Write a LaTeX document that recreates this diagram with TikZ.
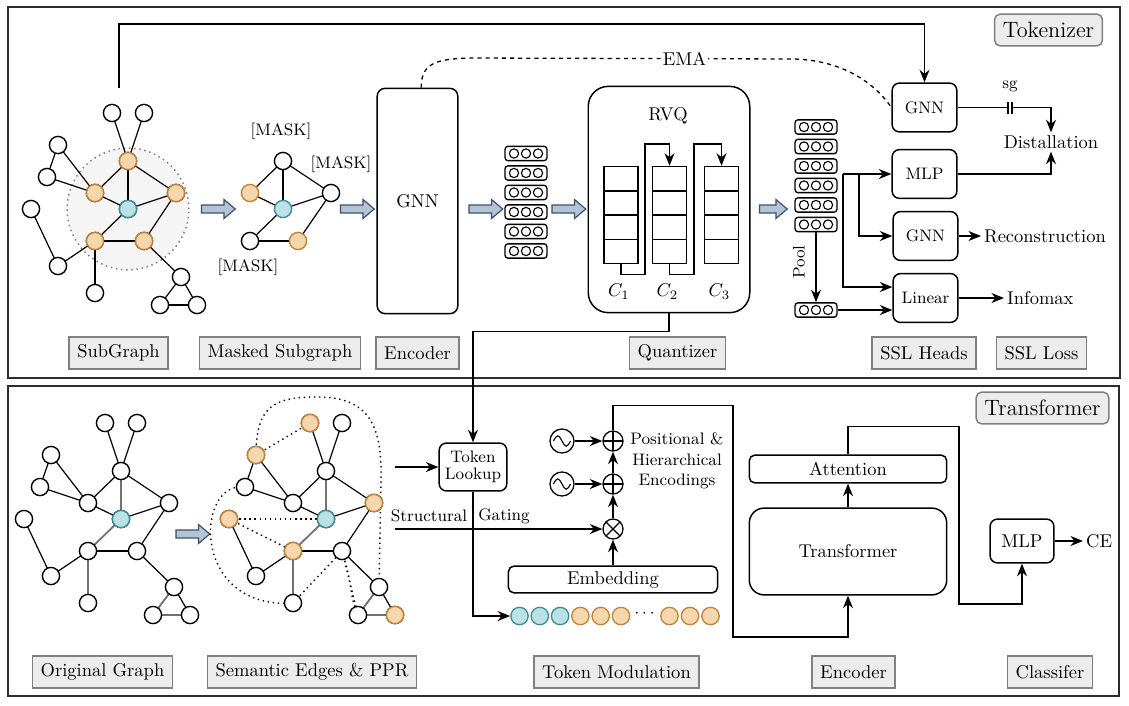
\documentclass[tikz,border=0pt]{standalone}
\usepackage{amsmath}
\usepackage{xcolor}
\usepackage{tikz}
\usetikzlibrary{
  arrows.meta,
  positioning,
  calc,
  shapes,
  shapes.arrows,
  backgrounds}
\definecolor{orF}{RGB}{246,214,172}
\definecolor{orD}{RGB}{192,132,56}
\definecolor{tlF}{RGB}{186,226,230}
\definecolor{tlD}{RGB}{62,140,150}
\definecolor{fatF}{RGB}{180,196,212}
\definecolor{fatD}{RGB}{58,82,108}
\definecolor{tagF}{RGB}{236,236,236}
\definecolor{tagD}{RGB}{128,128,128}
\definecolor{frameD}{RGB}{45,45,45}
\tikzset{
  gn/.style={circle, draw=black, fill=white, line width=0.75pt, minimum size=9.3pt, inner sep=0pt},
  gor/.style={draw=orD, fill=orF},
  gtl/.style={draw=tlD, fill=tlF},
  gedge/.style={line width=0.65pt},
  sem/.style={line width=0.75pt, dotted},
  box/.style={draw, rounded corners=4pt, line width=0.8pt, align=center},
  tag/.style={draw=tagD, fill=tagF, line width=0.8pt, minimum height=17.2pt, inner xsep=4.5pt},
  ttag/.style={tag, rounded corners=3pt, font=\large},
  fat/.style={single arrow, draw=fatD, fill=fatF, line width=0.65pt, minimum height=18.3pt,
    minimum width=0pt, single arrow head extend=3pt, single arrow tip angle=80, inner xsep=0pt, inner ysep=1.8pt},
  vrow/.style={draw, rounded corners=1.5pt, line width=0.7pt, minimum width=22.6pt, minimum height=7.7pt, inner sep=0pt},
  cell/.style={draw, line width=0.8pt, minimum width=18.3pt, minimum height=13.1pt, inner sep=0pt},
  tok/.style={circle, line width=0.7pt, minimum size=9.4pt, inner sep=0pt},
  op/.style={circle, draw, line width=0.7pt, minimum size=10.8pt, inner sep=0pt},
  opls/.style={op, path picture={\draw[line width=0.6pt] (path picture bounding box.north) -- (path picture bounding box.south)
    (path picture bounding box.west) -- (path picture bounding box.east);}},
  otim/.style={op, path picture={\draw[line width=0.6pt] (path picture bounding box.north west) -- (path picture bounding box.south east)
    (path picture bounding box.north east) -- (path picture bounding box.south west);}},
  wave/.style={circle, draw, line width=0.7pt, minimum size=13pt, inner sep=0pt,
    path picture={\draw[line width=0.6pt] ([xshift=-4.6pt]path picture bounding box.center) sin ++(2.3pt,2.8pt) cos ++(2.3pt,-2.8pt)
    sin ++(2.3pt,-2.8pt) cos ++(2.3pt,2.8pt);}},
  lbl/.style={inner sep=1.5pt},
  >={Stealth[length=6.8pt,width=5.4pt]},
}
% node positions of the example graph, and its edges
\def\gpos{112/113,144/113,58/145,47/177,31/209,58/266,95/293,128/161,95/193,176/193,128/209,95/241,144/241,181/277,160/305,197/305}
\def\gedges{1/8,2/8,3/4,3/9,4/9,8/9,8/11,8/10,9/11,10/11,10/13,11/12,12/13,12/6,5/6,12/7,13/14,14/15,14/16,15/16}
\begin{document}
\begin{tikzpicture}[x=0.019cm, y=-0.019cm]
\useasboundingbox (0,0) rectangle (1129,705);
%Frames
\draw[line width=1pt, frameD] (8,7) rectangle (1120,378);
\draw[line width=1pt, frameD] (8,386) rectangle (1119,696);
\node[ttag] (tokz) at (1048.5,30) {Tokenizer};
\node[ttag] (trfz) at (1042.5,408) {Transformer};

%Subgraph
\draw[gray, dotted, line width=0.8pt, fill=black!4] (128,209) circle[radius=32.9pt];
\foreach \x/\y [count=\i] in \gpos \coordinate (t\i) at (\x,\y);
\foreach \a/\b in \gedges \draw[gedge] (t\a) -- (t\b);
\foreach \i in {1,...,16} \node[gn] (t\i) at (t\i) {};
\foreach \i in {8,9,10,12,13} \node[gn, gor] (t\i) at (t\i) {};
\node[gn, gtl] (t11) at (t11) {};
\coordinate (fb) at (119,88);
\node[fat] (fa1) at (216,209) {};

%Masked subgraph
\foreach \n/\x/\y in {m1/283/161, m2/250/193, m3/283/209, m4/331/193, m5/250/241, m6/298/241}
  \coordinate (\n) at (\x,\y);
\foreach \a/\b in {m1/m2,m1/m3,m1/m4,m2/m3,m3/m4,m3/m5,m5/m6,m4/m6} \draw[gedge] (\a) -- (\b);
\node[gn] (m1) at (m1) {};
\node[gn, gor] (m2) at (m2) {};
\node[gn, gtl] (m3) at (m3) {};
\node[gn] (m4) at (m4) {};
\node[gn] (m5) at (m5) {};
\node[gn, gor] (m6) at (m6) {};
\node[font=\small] (mk1) at (281,131) {[MASK]};
\node[font=\small] (mk2) at (341,164) {[MASK]};
\node[font=\small] (mk3) at (248,267) {[MASK]};
\node[fat] (fa2) at (355,209) {};

%Encoder and quantizer
\node[box, rounded corners=4.3pt, minimum width=43.6pt, minimum height=121.8pt] (enc) at (417.5,201) {GNN};
\node[fat] (fa3) at (483.5,209) {};
\foreach \i in {1,...,6} {
  \node[vrow] (l\i) at (526,{153.5+19.5*(\i-1)}) {};
  \foreach \d in {-6.5pt,0pt,6.5pt} \draw[line width=0.6pt] ([xshift=\d]l\i.center) circle[radius=2.5pt];
}
\node[fat] (fa4) at (566.5,209) {};
\node[box, rounded corners=10.8pt, minimum width=87.3pt, minimum height=122.3pt] (rvq) at (669,199.5) {};
\node (rvqt) at (668,116) {RVQ};
\foreach \x [count=\k] in {621,669.5,721.5} {
  \foreach \r in {1,...,4}
    \node[cell] (c\k\r) at (\x,{178.6+24.3*(\r-1)}) {};
  \node (cl\k) at (\x-2,292) {$C_{\k}$};
}
\draw[line width=0.75pt, ->] (c14.south) -- ++(0,10) -| (645,144) -| (c21.north);
\draw[line width=0.75pt, ->] (c24.south) -- ++(0,10) -| (694,144) -| (c31.north);
\node[fat, minimum height=15pt] (fa5) at (771,209) {};

%SSL heads
\foreach \i in {1,...,6} {
  \node[vrow] (r\i) at (816,{127+19.5*(\i-1)}) {};
  \foreach \d in {-6.5pt,0pt,6.5pt} \draw[line width=0.6pt] ([xshift=\d]r\i.center) circle[radius=2.5pt];
}
\node[vrow] (pl) at (816,310) {};
\foreach \d in {-6.5pt,0pt,6.5pt} \draw[line width=0.6pt] ([xshift=\d]pl.center) circle[radius=2.5pt];
\draw[line width=0.75pt, ->] (r6.south) -- (pl.north);
\node[font=\small, rotate=90] (pooll) at (799,262) {Pool};

\node[box, font=\small, minimum width=35pt, minimum height=26.4pt] (gT) at (924.5,107.5) {GNN};
\node[box, font=\small, minimum width=35pt, minimum height=26.4pt] (mlp) at (924.5,174) {MLP};
\node[box, font=\small, minimum width=35pt, minimum height=26.4pt] (gR) at (925.5,236) {GNN};
\node[box, font=\small, minimum width=35pt, minimum height=26.4pt] (lin) at (925.5,298) {Linear};

\coordinate (bus) at (843,174);
\coordinate (bus2) at (859,174);
\draw[line width=0.75pt, ->] (bus) -- (mlp.west);
\draw[line width=0.75pt, ->] (bus) |- (lin.west |- 0,287);
\draw[line width=0.75pt, ->] (bus2) |- (gR.west);
\draw[line width=0.75pt, ->] (pl.east) -- (pl.east -| lin.west);

\node[lbl] (dist) at (1051,142) {Distallation};
\node[font=\small] (sgt) at (1010,86) {sg};
\coordinate (sgL) at (1008,107.5);
\coordinate (sgR) at (1012,107.5);
\draw[line width=0.75pt] (gT.east) -- (sgL);
\draw[line width=0.75pt] (sgL) ++(0,-6) -- ++(0,12) (sgR) ++(0,-6) -- ++(0,12);
\draw[line width=0.75pt, ->] (sgR) -| (dist.north);
\draw[line width=0.75pt, ->] (mlp.east) -| (dist.south);
\node[lbl, anchor=west] (rec) at (981,236) {Reconstruction};
\draw[line width=0.75pt, ->] (gR.east) -- (rec.west);
\node[lbl, anchor=west] (info) at (1004,298) {Infomax};
\draw[line width=0.75pt, ->] (lin.east) -- (info.west);

%EMA and feedback
\draw[line width=0.75pt, ->] (fb) -- ++(0,-64) -| (gT.north);
\draw[line width=0.7pt, dash pattern=on 2.2pt off 2.2pt] ([xshift=2pt]enc.north) .. controls +(0,-24) and +(-35,1) .. (470,58)
  -- node[pos=0.66, fill=white, inner sep=1pt] (ema) {EMA} (795,59) .. controls +(55,2) and +(-12,-18) .. (gT.west);

%Top tags
\node[tag] (tsub) at (118.5,353) {SubGraph};
\node[tag] (tmsk) at (280,353) {Masked Subgraph};
\node[tag] (tenc) at (417.5,353) {Encoder};
\node[tag] (tqnt) at (677.5,353) {Quantizer};
\node[tag] (thd) at (924,353) {SSL Heads};
\node[tag] (tls) at (1041.5,353) {SSL Loss};

%Original graph
\foreach \x/\y [count=\i] in \gpos \coordinate (b\i) at (\x-7,\y+310);
\foreach \a/\b in \gedges \draw[gedge] (b\a) -- (b\b);
\foreach \a/\b in {8/11,11/12,12/7,14/15,15/16} \draw[gedge, draw=black!55, line width=0.9pt] (b\a) -- (b\b);
\foreach \i in {1,...,16} \node[gn] (b\i) at (b\i) {};
\node[gn, gtl] (b11) at (b11) {};
\node[fat] (fa6) at (190.5,534) {};

%Semantic graph
\foreach \x/\y [count=\i] in \gpos \coordinate (s\i) at (\x+198,\y+310);
\foreach \a/\b in \gedges \draw[gedge] (s\a) -- (s\b);
\foreach \a/\b in {8/11,11/12,12/7,14/15,15/16} \draw[gedge, draw=black!55, line width=0.9pt] (s\a) -- (s\b);
\foreach \a/\b in {3/1,5/11,5/12,7/13,13/15} \draw[sem] (s\a) -- (s\b);
\draw[sem] (s13) .. controls (352,580) and (350,600) .. (s15);
\draw[sem] (s3) .. controls (256,405) and (275,397) .. (318,397) .. controls (372,397) and (382,430) .. (381,480) -- (s14);
\draw[sem] (s4) .. controls (195,480) and (190,610) .. (s7);
\foreach \i in {1,...,16} \node[gn] (s\i) at (s\i) {};
\foreach \i in {1,3,5,10,12,16} \node[gn, gor] (s\i) at (s\i) {};
\node[gn, gtl] (s11) at (s11) {};

%Token modulation
\node[box, font=\small, minimum width=36.6pt, minimum height=25.9pt, inner sep=1pt] (look) at (473,467) {Token\\[-2pt]Lookup};
\draw[line width=0.75pt, ->] (rvq.south) -- ++(0,18) -| (look.north);
\coordinate (sin) at (395,467);
\draw[line width=0.75pt, ->] (sin) -- (look.west);
\node[font=\small] (strl) at (429,516) {Structural};
\node[font=\small] (gatl) at (504,516) {Gating};
\node[box, rounded corners=3pt, minimum width=113pt, minimum height=14.5pt, inner sep=0pt] (emb) at (613,579.5) {Embedding};
\node[otim] (ot) at (613,529) {};
\node[opls] (op1) at (613,484) {};
\node[opls] (op2) at (613,441) {};
\node[wave] (w1) at (562,484) {};
\node[wave] (w2) at (562,441) {};
\coordinate (gin) at (395,529);
\draw[line width=0.75pt, ->] (gin) -- (ot.west);
\draw[line width=0.75pt, ->] (emb.north) -- (ot.south);
\draw[line width=0.75pt, ->] (ot.north) -- (op1.south);
\draw[line width=0.75pt, ->] (op1.north) -- (op2.south);
\draw[line width=0.75pt, ->] (w1) -- (op1);
\draw[line width=0.75pt, ->] (w2) -- (op2);
\node[font=\small, align=center] (penc) at (677,461) {Positional \&\\Hierarchical\\Encodings};
\foreach \x [count=\k] in {519.5,539.8,560.1} \node[tok, draw=tlD, fill=tlF] (k\k) at (\x,616) {};
\foreach \x [count=\k from 4] in {580.4,600.7,621,669.5,690,710.5} \node[tok, draw=orD, fill=orF] (k\k) at (\x,616) {};
\node[font=\small] (dots) at (646,614) {$\cdots$};
\draw[line width=0.75pt, ->] (look.south) |- (k1.west);

%Transformer encoder and classifier
\node[box, rounded corners=8pt, minimum width=106.7pt, minimum height=46.9pt] (trans) at (848,551.5) {Transformer};
\node[box, rounded corners=3pt, minimum width=106.7pt, minimum height=15pt, inner sep=0pt] (att) at (848,469) {Attention};
\node[box, minimum width=34.5pt, minimum height=23.7pt] (mlp2) at (1022,541) {MLP};
\node[lbl, anchor=west] (ce) at (1083,541) {CE};
\draw[line width=0.75pt, ->] (op2.north) -- ++(0,-25) -| (733,637) -| (trans.south);
\draw[line width=0.75pt, ->] (trans.north) -- (att.south);
\draw[line width=0.75pt, ->] (att.north) -- ++(0,-28) -| (959,604) -| (mlp2.south);
\draw[line width=0.75pt, ->] (mlp2.east) -- (ce.west);

%Bottom tags
\node[tag] (torg) at (102.5,672) {Original Graph};
\node[tag] (tsem) at (312,672) {Semantic Edges \& PPR};
\node[tag] (tmod) at (616.5,672) {Token Modulation};
\node[tag] (tenc2) at (853.5,672) {Encoder};
\node[tag] (tcls) at (1050,672) {Classifer};
\end{tikzpicture}
\end{document}
